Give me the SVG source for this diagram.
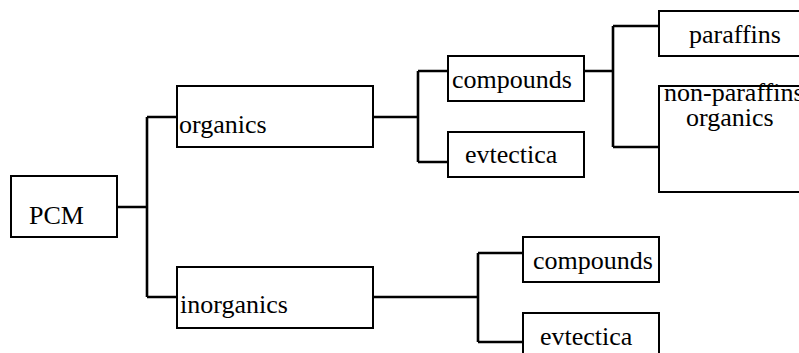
<svg xmlns="http://www.w3.org/2000/svg" width="799" height="353" viewBox="0 0 799 353">
<style>
.box{fill:#fff;stroke:#000;stroke-width:2}
.t{font-family:'Liberation Serif','DejaVu Serif',serif;font-size:26px;fill:#000}
.c{fill:none;stroke:#000;stroke-width:2.6}
</style>
<rect width="799" height="353" fill="#fff"/>
<g id="connectors">
<path class="c" d="M117,207H147M147,117V297M147,117H177M147,297H177"/>
<path class="c" d="M373,117H418M418,71V162M418,71H448M418,162H448"/>
<path class="c" d="M584,71H613M613,26V147M613,26H659M613,147H659"/>
<path class="c" d="M373,297H478M478,253V342M478,253H523M478,342H523"/>
</g>
<g id="pcm"><rect class="box" x="11" y="176" width="106" height="61"/><text class="t" x="29" y="224">PCM</text></g>
<g id="organics"><rect class="box" x="177" y="86" width="196" height="61"/><text class="t" x="179" y="133">organics</text></g>
<g id="inorganics"><rect class="box" x="177" y="267" width="196" height="61"/><text class="t" x="180" y="313">inorganics</text></g>
<g id="org-compounds"><rect class="box" x="448" y="56" width="136" height="45"/><text class="t" x="452" y="88">compounds</text></g>
<g id="org-evtectica"><rect class="box" x="448" y="132" width="136" height="45"/><text class="t" x="465" y="163">evtectica</text></g>
<g id="paraffins"><rect class="box" x="659" y="11" width="160" height="45"/><text class="t" x="689" y="43">paraffins</text></g>
<g id="non-paraffin"><rect class="box" x="659" y="86" width="160" height="106"/><text class="t" x="664" y="101">non-paraffins</text><text class="t" x="686" y="126">organics</text></g>
<g id="inorg-compounds"><rect class="box" x="523" y="237" width="136" height="45"/><text class="t" x="533" y="269">compounds</text></g>
<g id="inorg-evtectica"><rect class="box" x="523" y="313" width="136" height="60"/><text class="t" x="540" y="345">evtectica</text></g>
</svg>
